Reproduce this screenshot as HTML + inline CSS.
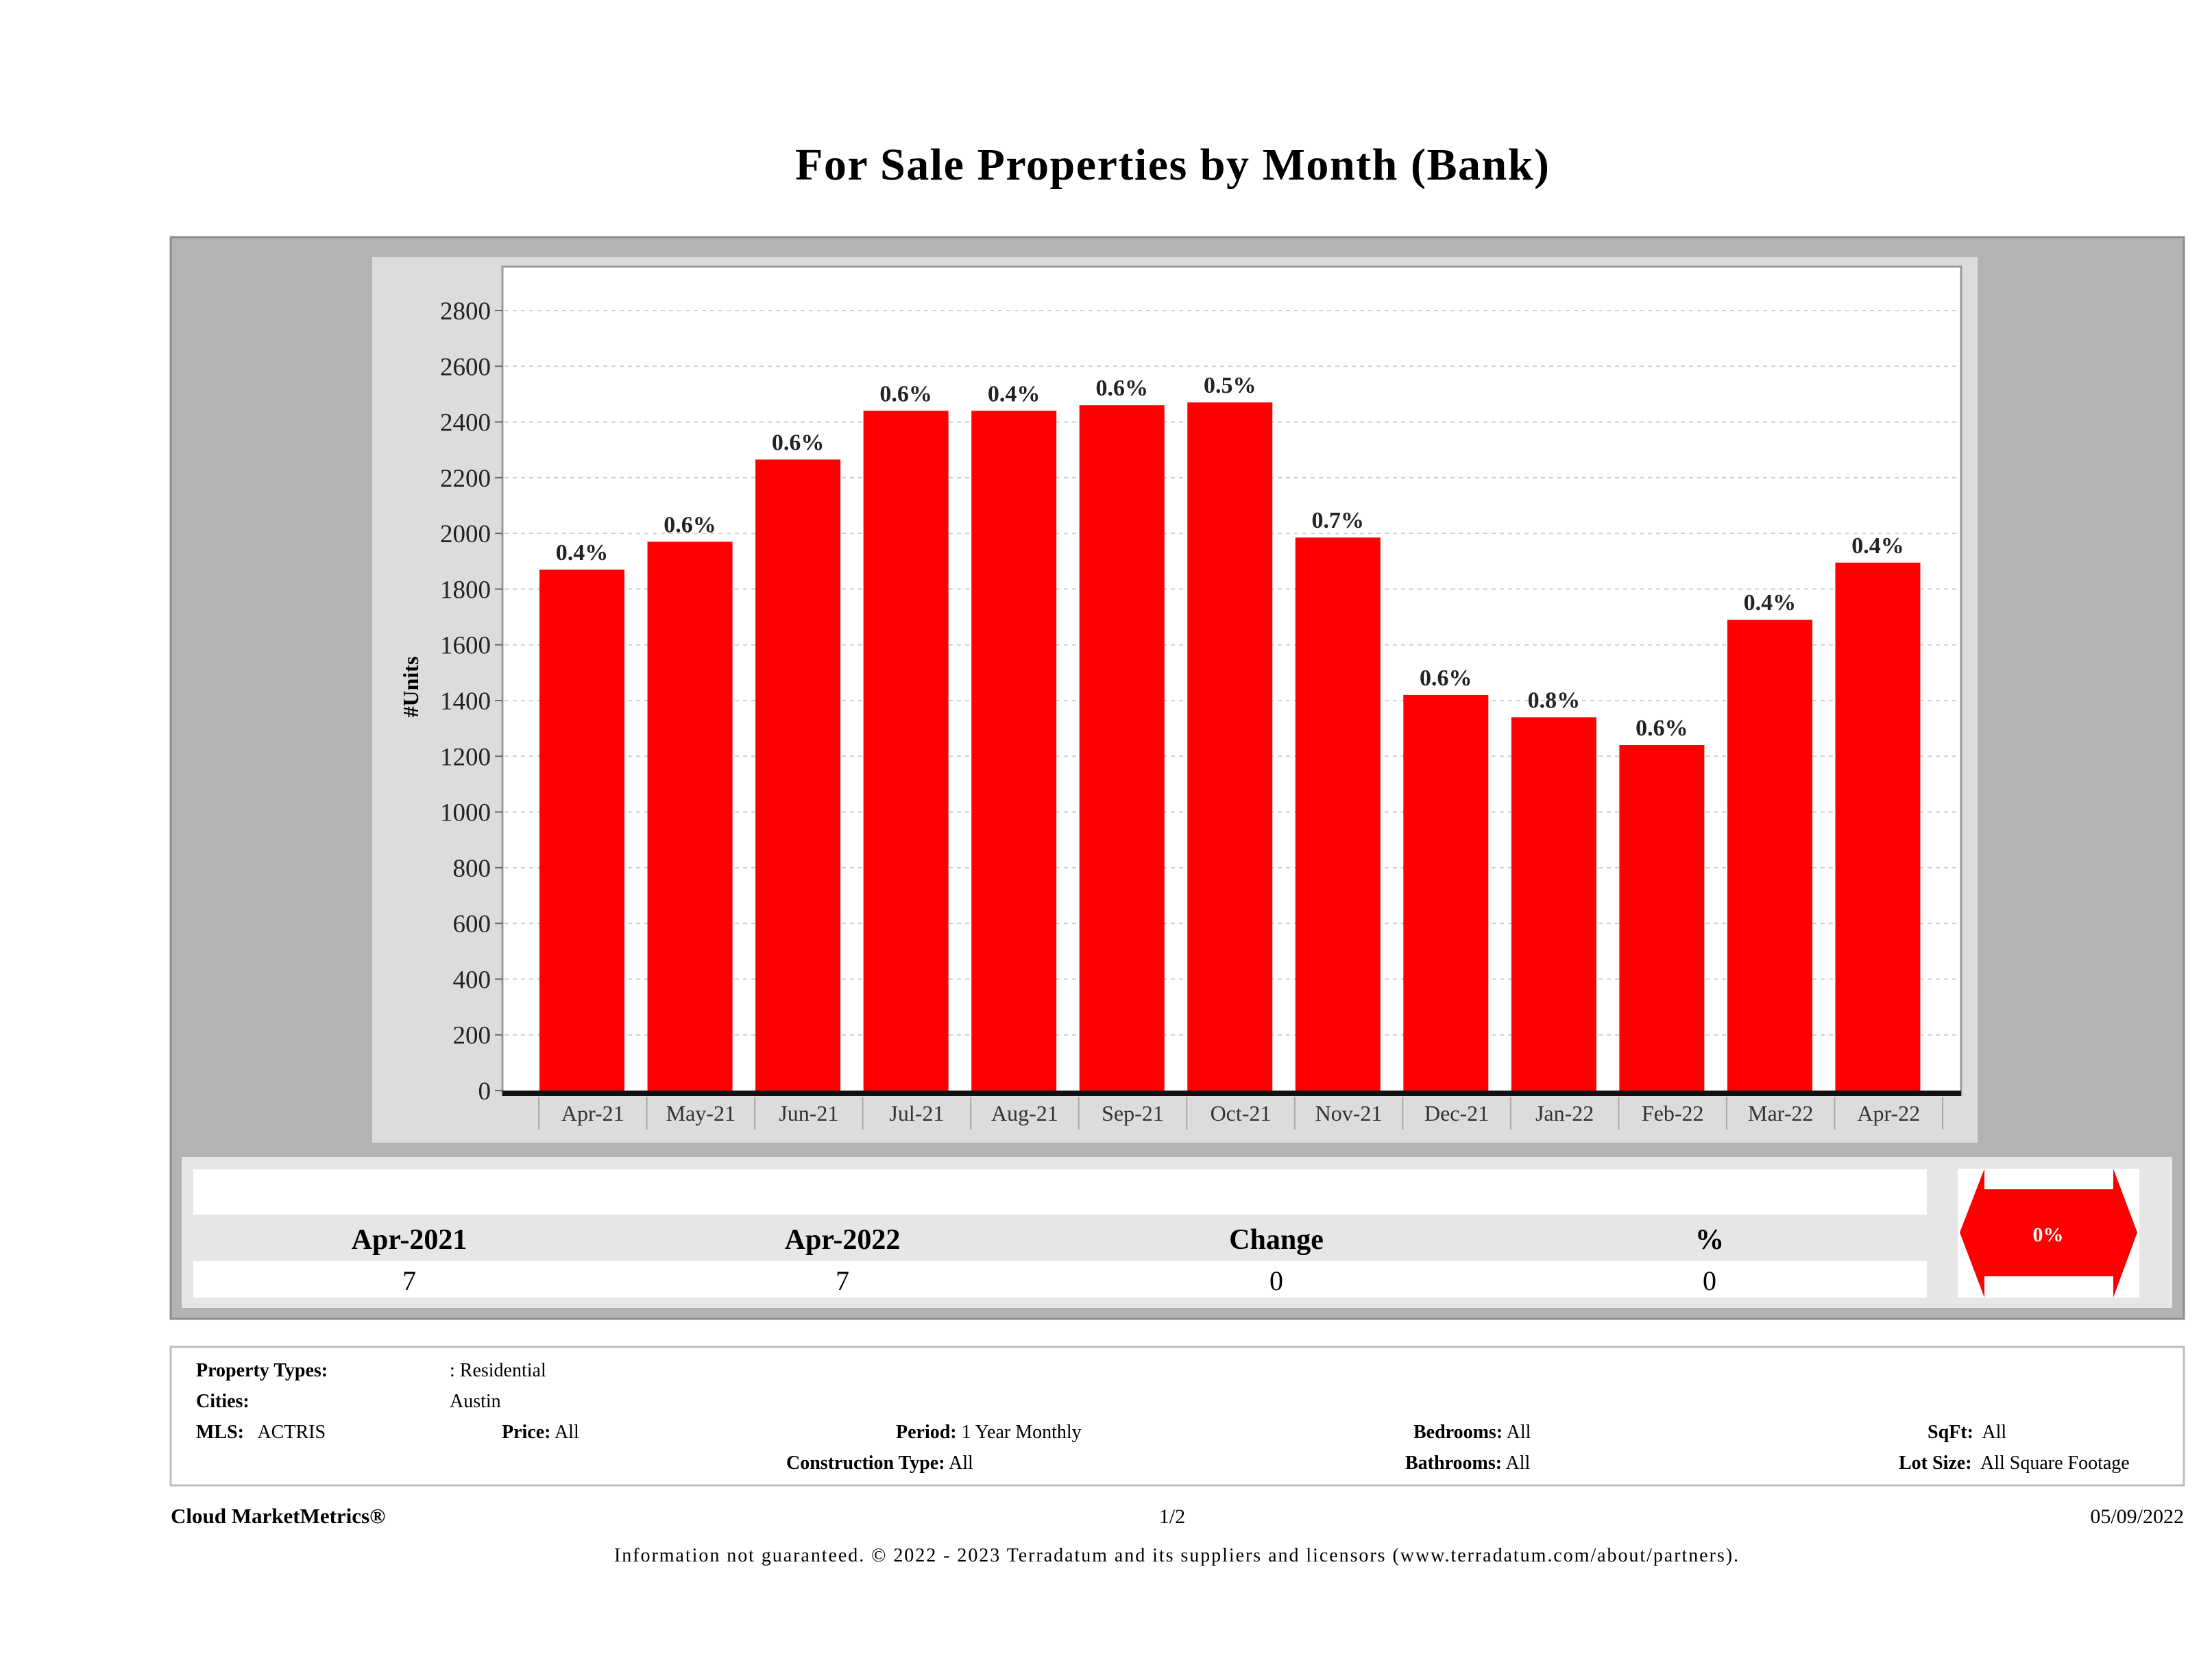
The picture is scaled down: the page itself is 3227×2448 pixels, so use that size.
<!DOCTYPE html>
<html><head><meta charset="utf-8"><style>
html,body{margin:0;padding:0;background:#fff;}
svg{display:block;font-family:"Liberation Serif",serif;}
</style></head><body>
<svg id="page" width="3227" height="2448" viewBox="0 0 3227 2448" xmlns="http://www.w3.org/2000/svg">
<text x="1710" y="262" font-size="66" font-weight="bold" text-anchor="middle" textLength="1100">For Sale Properties by Month (Bank)</text>
<rect x="249" y="346" width="2937" height="1578" fill="#b3b3b3" stroke="#8c8c8c" stroke-width="3"/>
<rect x="543" y="375" width="2342" height="1292" fill="#dcdcdc"/>
<rect x="733" y="389" width="2128" height="1208" fill="#fff" stroke="#9a9a9a" stroke-width="3"/>
<g id="grid"></g>
<g id="bars"></g>
<g id="yticks"></g>
<g id="xticks"></g>
<text transform="translate(610,1002) rotate(-90)" font-size="32" font-weight="bold" text-anchor="middle">#Units</text>

<rect x="265" y="1688" width="2904" height="220" fill="#e6e6e6"/>
<rect x="282" y="1706" width="2529" height="66" fill="#fff"/>
<rect x="282" y="1840" width="2529" height="53" fill="#fff"/>
<g font-size="42" font-weight="bold" text-anchor="middle">
<text x="597" y="1822">Apr-2021</text><text x="1229" y="1822">Apr-2022</text><text x="1862" y="1822">Change</text><text x="2494" y="1822">%</text></g>
<g font-size="40" text-anchor="middle">
<text x="597" y="1882">7</text><text x="1229" y="1882">7</text><text x="1862" y="1882">0</text><text x="2494" y="1882">0</text></g>
<rect x="2856" y="1705" width="265" height="188" fill="#fff"/>
<polygon points="2859,1798 2895,1705 2895,1735 3083,1735 3083,1705 3118,1798 3083,1893 3083,1862 2895,1862 2895,1893" fill="#ff0000"/>
<text x="2988" y="1811" font-size="30" font-weight="bold" fill="#fff" text-anchor="middle">0%</text>

<rect x="249" y="1965" width="2937" height="202" fill="#fff" stroke="#bdbdbd" stroke-width="3"/>
<g font-size="28">
<text x="286" y="2008" font-weight="bold">Property Types:</text><text x="656" y="2008">: Residential</text>
<text x="286" y="2053" font-weight="bold">Cities:</text><text x="656" y="2053">Austin</text>
<text x="286" y="2098" xml:space="preserve"><tspan font-weight="bold">MLS:</tspan>   ACTRIS</text>
<text x="732" y="2098"><tspan font-weight="bold">Price:</tspan> All</text>
<text x="1307" y="2098"><tspan font-weight="bold">Period:</tspan> 1 Year Monthly</text>
<text x="2062" y="2098"><tspan font-weight="bold">Bedrooms:</tspan> All</text>
<text x="2812" y="2098" xml:space="preserve"><tspan font-weight="bold">SqFt:</tspan>  All</text>
<text x="1147" y="2143"><tspan font-weight="bold">Construction Type:</tspan> All</text>
<text x="2050" y="2143"><tspan font-weight="bold">Bathrooms:</tspan> All</text>
<text x="2770" y="2143" xml:space="preserve"><tspan font-weight="bold">Lot Size:</tspan>  All Square Footage</text>
</g>
<text x="249" y="2222" font-size="31" font-weight="bold">Cloud MarketMetrics®</text>
<text x="1710" y="2222" font-size="30" text-anchor="middle">1/2</text>
<text x="3186" y="2222" font-size="30" text-anchor="end">05/09/2022</text>
<text x="1716" y="2278" font-size="28" text-anchor="middle" textLength="1640">Information not guaranteed. © 2022 - 2023 Terradatum and its suppliers and licensors (www.terradatum.com/about/partners).</text>
</svg>
<script>
const categories = ["Apr-21","May-21","Jun-21","Jul-21","Aug-21","Sep-21","Oct-21","Nov-21","Dec-21","Jan-22","Feb-22","Mar-22","Apr-22"];
const units = [1870,1970,2265,2440,2440,2460,2470,1985,1420,1340,1240,1690,1895];
const pctLabels = ["0.4%","0.6%","0.6%","0.6%","0.4%","0.6%","0.5%","0.7%","0.6%","0.8%","0.6%","0.4%","0.4%"];
const yTicks = [0,200,400,600,800,1000,1200,1400,1600,1800,2000,2200,2400,2600,2800];

const NS = "http://www.w3.org/2000/svg";
const y0 = 1591, yTop = 453, vMax = 2800;
const xL = 786, xR = 2834;
const band = (xR - xL) / categories.length;
const yScale = v => y0 - (v / vMax) * (y0 - yTop);
const xScale = i => xL + i * band;
function mk(tag, attrs, parent){const e=document.createElementNS(NS,tag);for(const k in attrs)e.setAttribute(k,attrs[k]);parent.appendChild(e);return e;}
const grid=document.getElementById('grid'),bars=document.getElementById('bars'),yt=document.getElementById('yticks'),xt=document.getElementById('xticks');
yTicks.forEach(v=>{
  const y=yScale(v);
  if(v>0){const g=mk('line',{x1:736,x2:2858,y1:y,y2:y,stroke:'#d0d0d0','stroke-width':2,'stroke-dasharray':'6,6'},grid);
  
  }
  const tk=mk('line',{x1:722,x2:733,y1:y,y2:y,stroke:'#666','stroke-width':2},yt);
  
  
  const t=mk('text',{x:716,y:y+13,'font-size':37,'text-anchor':'end',fill:'#222'},yt);
  t.textContent=v;
  
  
});
categories.forEach((c,i)=>{
  const bx=xScale(i)+1, y=yScale(units[i]);
  const r=mk('rect',{x:bx,y:y,width:124,height:y0-y,fill:'#ff0000'},bars);
  
  
  const l=mk('text',{x:bx+62,y:y-14,'font-size':34,'font-weight':'bold','text-anchor':'middle',fill:'#222'},bars);
  l.textContent=pctLabels[i];
  
  
  const s=mk('line',{x1:xScale(i),x2:xScale(i),y1:1600,y2:1648,stroke:'#aaa','stroke-width':2},xt);
  
  
  const t=mk('text',{x:xScale(i)+band/2,y:1635,'font-size':32,'text-anchor':'middle',fill:'#333'},xt);
  t.textContent=c;
  
  
});
const s2=mk('line',{x1:xR,x2:xR,y1:1600,y2:1648,stroke:'#aaa','stroke-width':2},xt);


const ax=mk('line',{x1:733,x2:2861,y1:y0+4,y2:y0+4,stroke:'#111','stroke-width':8},xt);


</script>
</body></html>
